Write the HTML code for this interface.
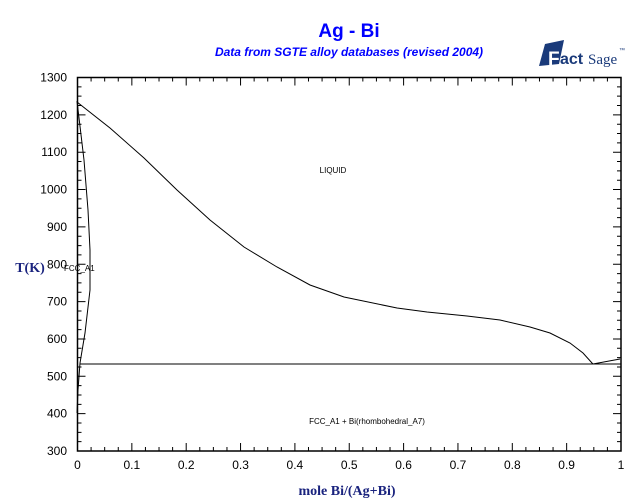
<!DOCTYPE html>
<html><head><style>
body{margin:0;background:#fff;}
svg{display:block;font-family:"Liberation Sans",sans-serif;}
</style></head><body>
<svg width="640" height="504" xmlns="http://www.w3.org/2000/svg">
<text x="349" y="37" text-anchor="middle" font-size="19" font-weight="bold" fill="#0000ff">Ag - Bi</text>
<text x="349" y="56" text-anchor="middle" font-size="12" font-weight="bold" font-style="italic" fill="#0000ff">Data from SGTE alloy databases (revised 2004)</text>
<g>
<polygon points="545,44 564,40 559,64 539,66" fill="#1a3a7a"/>
<text x="548" y="65" font-size="19" font-weight="bold" fill="#fff">F</text>
<text x="560" y="64" font-size="16" font-weight="bold" fill="#1a3a7a">act</text>
<text x="588" y="64" font-size="15" fill="#1a3a7a" font-family="Liberation Serif,serif">Sage</text>
<text x="619" y="52" font-size="6" fill="#1a3a7a">™</text>
</g>
<g stroke="#000" stroke-width="1" fill="none">
<path d="M77.5,451 v-8 m13.5875,8 v-4 m13.5875,4 v-4 m13.5875,4 v-4 m13.5875,4 v-8 m13.5875,8 v-4 m13.5875,4 v-4 m13.5875,4 v-4 m13.5875,4 v-8 m13.5875,8 v-4 m13.5875,4 v-4 m13.5875,4 v-4 m13.5875,4 v-8 m13.5875,8 v-4 m13.5875,4 v-4 m13.5875,4 v-4 m13.5875,4 v-8 m13.5875,8 v-4 m13.5875,4 v-4 m13.5875,4 v-4 m13.5875,4 v-8 m13.5875,8 v-4 m13.5875,4 v-4 m13.5875,4 v-4 m13.5875,4 v-8 m13.5875,8 v-4 m13.5875,4 v-4 m13.5875,4 v-4 m13.5875,4 v-8 m13.5875,8 v-4 m13.5875,4 v-4 m13.5875,4 v-4 m13.5875,4 v-8 m13.5875,8 v-4 m13.5875,4 v-4 m13.5875,4 v-4 m13.5875,4 v-8 m13.5875,8 v-4 m13.5875,4 v-4 m13.5875,4 v-4 m13.5875,4 v-8"/>
<path d="M77.5,77.5 v8 m13.5875,-8 v4 m13.5875,-4 v4 m13.5875,-4 v4 m13.5875,-4 v8 m13.5875,-8 v4 m13.5875,-4 v4 m13.5875,-4 v4 m13.5875,-4 v8 m13.5875,-8 v4 m13.5875,-4 v4 m13.5875,-4 v4 m13.5875,-4 v8 m13.5875,-8 v4 m13.5875,-4 v4 m13.5875,-4 v4 m13.5875,-4 v8 m13.5875,-8 v4 m13.5875,-4 v4 m13.5875,-4 v4 m13.5875,-4 v8 m13.5875,-8 v4 m13.5875,-4 v4 m13.5875,-4 v4 m13.5875,-4 v8 m13.5875,-8 v4 m13.5875,-4 v4 m13.5875,-4 v4 m13.5875,-4 v8 m13.5875,-8 v4 m13.5875,-4 v4 m13.5875,-4 v4 m13.5875,-4 v8 m13.5875,-8 v4 m13.5875,-4 v4 m13.5875,-4 v4 m13.5875,-4 v8 m13.5875,-8 v4 m13.5875,-4 v4 m13.5875,-4 v4 m13.5875,-4 v8"/>
<path d="M77.5,451 h8 m-8,-9.3375 h4 m-4,-9.3375 h4 m-4,-9.3375 h4 m-4,-9.3375 h8 m-8,-9.3375 h4 m-4,-9.3375 h4 m-4,-9.3375 h4 m-4,-9.3375 h8 m-8,-9.3375 h4 m-4,-9.3375 h4 m-4,-9.3375 h4 m-4,-9.3375 h8 m-8,-9.3375 h4 m-4,-9.3375 h4 m-4,-9.3375 h4 m-4,-9.3375 h8 m-8,-9.3375 h4 m-4,-9.3375 h4 m-4,-9.3375 h4 m-4,-9.3375 h8 m-8,-9.3375 h4 m-4,-9.3375 h4 m-4,-9.3375 h4 m-4,-9.3375 h8 m-8,-9.3375 h4 m-4,-9.3375 h4 m-4,-9.3375 h4 m-4,-9.3375 h8 m-8,-9.3375 h4 m-4,-9.3375 h4 m-4,-9.3375 h4 m-4,-9.3375 h8 m-8,-9.3375 h4 m-4,-9.3375 h4 m-4,-9.3375 h4 m-4,-9.3375 h8 m-8,-9.3375 h4 m-4,-9.3375 h4 m-4,-9.3375 h4 m-4,-9.3375 h8"/>
<path d="M621,451 h-8 m8,-9.3375 h-4 m4,-9.3375 h-4 m4,-9.3375 h-4 m4,-9.3375 h-8 m8,-9.3375 h-4 m4,-9.3375 h-4 m4,-9.3375 h-4 m4,-9.3375 h-8 m8,-9.3375 h-4 m4,-9.3375 h-4 m4,-9.3375 h-4 m4,-9.3375 h-8 m8,-9.3375 h-4 m4,-9.3375 h-4 m4,-9.3375 h-4 m4,-9.3375 h-8 m8,-9.3375 h-4 m4,-9.3375 h-4 m4,-9.3375 h-4 m4,-9.3375 h-8 m8,-9.3375 h-4 m4,-9.3375 h-4 m4,-9.3375 h-4 m4,-9.3375 h-8 m8,-9.3375 h-4 m4,-9.3375 h-4 m4,-9.3375 h-4 m4,-9.3375 h-8 m8,-9.3375 h-4 m4,-9.3375 h-4 m4,-9.3375 h-4 m4,-9.3375 h-8 m8,-9.3375 h-4 m4,-9.3375 h-4 m4,-9.3375 h-4 m4,-9.3375 h-8 m8,-9.3375 h-4 m4,-9.3375 h-4 m4,-9.3375 h-4 m4,-9.3375 h-8"/>
</g>
<rect x="77.5" y="77.5" width="543.5" height="373.5" fill="none" stroke="#000" stroke-width="1.5"/>
<g font-size="12" fill="#000" text-anchor="end">
<text x="67" y="455">300</text><text x="67" y="417.65">400</text><text x="67" y="380.3">500</text><text x="67" y="342.95">600</text><text x="67" y="305.6">700</text><text x="67" y="268.25">800</text><text x="67" y="230.9">900</text><text x="67" y="193.55">1000</text><text x="67" y="156.2">1100</text><text x="67" y="118.85">1200</text><text x="67" y="81.5">1300</text>
</g>
<g font-size="12" fill="#000" text-anchor="middle">
<text x="77.5" y="469">0</text><text x="131.85" y="469">0.1</text><text x="186.2" y="469">0.2</text><text x="240.55" y="469">0.3</text><text x="294.9" y="469">0.4</text><text x="349.25" y="469">0.5</text><text x="403.6" y="469">0.6</text><text x="457.95" y="469">0.7</text><text x="512.3" y="469">0.8</text><text x="566.65" y="469">0.9</text><text x="621" y="469">1</text>
</g>
<text x="30" y="272" text-anchor="middle" font-family="Liberation Serif,serif" font-weight="bold" font-size="14" fill="#1a237e">T(K)</text>
<text x="347" y="495" text-anchor="middle" font-family="Liberation Serif,serif" font-weight="bold" font-size="14" fill="#1a237e">mole Bi/(Ag+Bi)</text>
<g stroke="#000" fill="none" stroke-width="1">
<line x1="80" y1="364" x2="621" y2="364"/>
<polyline points="77,102 110,128 144,158 177,190 210,220 244,247 277,267 310,285 344,297 397,308 427,312 467,316 500,320 530,327 550,333 570,343 583,353 592,363 593,364 620,359"/>
<polyline points="77,101 84,160 88,210 90,250 90,290 85,333 80,363 78,390 77,413"/>
</g>
<text x="333" y="173" text-anchor="middle" font-size="8">LIQUID</text>
<text x="64" y="271" font-size="8">FCC_A1</text>
<text x="367" y="424" text-anchor="middle" font-size="8">FCC_A1 + Bi(rhombohedral_A7)</text>
</svg>
</body></html>
